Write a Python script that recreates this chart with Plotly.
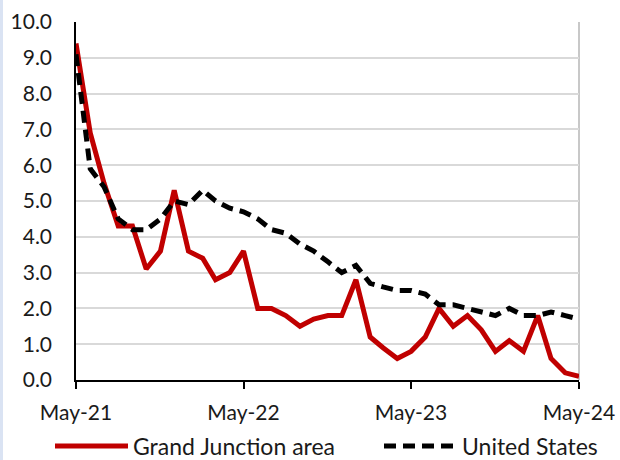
import plotly.graph_objects as go

months = ["2021-05-01", "2021-06-01", "2021-07-01", "2021-08-01", "2021-09-01", "2021-10-01",
          "2021-11-01", "2021-12-01", "2022-01-01", "2022-02-01", "2022-03-01", "2022-04-01",
          "2022-05-01", "2022-06-01", "2022-07-01", "2022-08-01", "2022-09-01", "2022-10-01",
          "2022-11-01", "2022-12-01", "2023-01-01", "2023-02-01", "2023-03-01", "2023-04-01",
          "2023-05-01", "2023-06-01", "2023-07-01", "2023-08-01", "2023-09-01", "2023-10-01",
          "2023-11-01", "2023-12-01", "2024-01-01", "2024-02-01", "2024-03-01", "2024-04-01",
          "2024-05-01"]

grand_junction = [9.4, 6.9, 5.5, 4.3, 4.3, 3.1, 3.6, 5.3, 3.6, 3.4, 2.8, 3.0,
                  3.6, 2.0, 2.0, 1.8, 1.5, 1.7, 1.8, 1.8, 2.8, 1.2, 0.9, 0.6,
                  0.8, 1.2, 2.0, 1.5, 1.8, 1.4, 0.8, 1.1, 0.8, 1.8, 0.6, 0.2,
                  0.1]

united_states = [9.1, 5.9, 5.4, 4.5, 4.2, 4.2, 4.5, 5.0, 4.9, 5.3, 5.0, 4.8,
                 4.7, 4.5, 4.2, 4.1, 3.8, 3.6, 3.3, 3.0, 3.2, 2.7, 2.6, 2.5,
                 2.5, 2.4, 2.1, 2.1, 2.0, 1.9, 1.8, 2.0, 1.8, 1.8, 1.9, 1.8,
                 1.7]

x_tick_vals = ["2021-05-01", "2022-05-01", "2023-05-01", "2024-05-01"]
x_tick_text = ["May-21", "May-22", "May-23", "May-24"]
y_tick_vals = [0, 1, 2, 3, 4, 5, 6, 7, 8, 9, 10]

FONT = "Lato"
ML, MR, MT, MB = 76, 41, 22, 80
PW = 620 - ML - MR
PH = 460 - MT - MB
LEG_Y = 446

fig = go.Figure()
fig.add_trace(go.Scatter(
    x=months, y=grand_junction, mode="lines", name="Grand Junction area",
    line=dict(color="#C00000", width=5), legend="legend"))
fig.add_trace(go.Scatter(
    x=months, y=united_states, mode="lines", name="United States",
    line=dict(color="#000000", width=5, dash="12px,7px"), legend="legend2"))

leg_common = dict(orientation="h", xanchor="left", yanchor="middle",
                  itemwidth=73, font=dict(size=23, family=FONT, color="#1a1a1a"),
                  bgcolor="rgba(0,0,0,0)", itemclick=False, itemdoubleclick=False)

fig.update_layout(
    width=620, height=460,
    margin=dict(l=ML, r=MR, t=MT, b=MB, pad=0, autoexpand=False),
    paper_bgcolor="white", plot_bgcolor="white",
    font=dict(family=FONT, size=21, color="#1a1a1a"),
    showlegend=True,
    legend=dict(x=(50 - ML) / PW, y=-(LEG_Y - 380) / PH, **leg_common),
    legend2=dict(x=(379 - ML) / PW, y=-(LEG_Y - 380) / PH, **leg_common),
    xaxis=dict(
        type="date", range=["2021-05-01", "2024-05-01"],
        tickvals=x_tick_vals, ticktext=x_tick_text,
        showgrid=False, zeroline=False,
        showline=True, linecolor="black", linewidth=1.5,
        ticks="outside", ticklen=7, tickcolor="black", tickwidth=1.5,
        ticklabelstandoff=6, tickfont=dict(size=21, family=FONT)),
    yaxis=dict(
        range=[0, 10], tickvals=y_tick_vals, tickformat=".1f",
        showgrid=True, gridcolor="#d9d9d9", gridwidth=1.5,
        zeroline=False, showline=True, linecolor="black", linewidth=1.5,
        ticks="", ticklabelstandoff=18, tickfont=dict(size=21, family=FONT)),
    shapes=[
        dict(type="line", xref="paper", yref="paper", x0=1, x1=1, y0=0, y1=1,
             line=dict(color="#c8c8c8", width=2), layer="below"),
        dict(type="rect", xref="paper", yref="paper", x0=-ML / PW, x1=(-ML + 3) / PW,
             y0=-MB / PH, y1=1 + MT / PH, line=dict(width=0), fillcolor="#dae3f3"),
    ],
)

fig.write_html("out.html", config={"displayModeBar": False},
               post_script="document.body.style.margin='0';document.body.style.overflow='hidden';")
